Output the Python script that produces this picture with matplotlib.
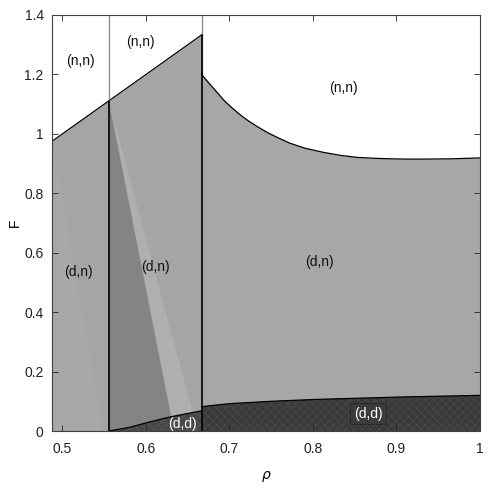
import matplotlib
matplotlib.use("Agg")
import matplotlib.pyplot as plt
import numpy as np

plt.rcParams['font.family'] = ['Liberation Sans', 'DejaVu Sans']
plt.rcParams['hatch.linewidth'] = 0.4

# ---- data ----
rho_min, rho_b1, rho_b2, rho_max = 0.4875, 5/9, 2/3, 1.0

# upper boundary (d,n)/(n,n), left part (straight line)
up_left_rho = [0.4875, 0.5556, 0.6667]
up_left_F = [0.975, 1.111, 1.333]

# upper boundary right part (curve)
up_right_rho = [0.6667, 0.675, 0.685, 0.693, 0.702, 0.712, 0.722, 0.733,
                0.745, 0.758, 0.772, 0.790, 0.812, 0.832, 0.852, 0.872,
                0.892, 0.912, 0.932, 0.966, 1.000]
up_right_F = [1.200, 1.172, 1.140, 1.114, 1.090, 1.066, 1.045, 1.025,
              1.005, 0.987, 0.969, 0.952, 0.938, 0.928, 0.921, 0.918,
              0.916, 0.915, 0.915, 0.916, 0.919]

# (d,d) boundary, middle part
dd_mid_rho = [0.5556, 0.580, 0.605, 0.630, 0.6667]
dd_mid_F = [0.000, 0.012, 0.031, 0.048, 0.068]

# (d,d) boundary, right part
dd_right_rho = [0.6667, 0.700, 0.750, 0.800, 0.850, 0.900, 0.950, 1.000]
dd_right_F = [0.082, 0.092, 0.100, 0.106, 0.110, 0.114, 0.117, 0.120]

# shading wedges inside the (d,n) regions
wedge_dark_rho = [0.5556, 0.6335, 0.5556]
wedge_dark_F = [1.111, 0.0, 0.0]
wedge_light_rho = [0.5556, 0.6335, 0.662]
wedge_light_F = [1.111, 0.0, 0.0]
wedge_left_rho = [0.4875, 0.4875, 0.548]
wedge_left_F = [0.975, 0.0, 0.0]

labels = [("(n,n)", 0.521, 1.245), ("(n,n)", 0.593, 1.31),
          ("(n,n)", 0.836, 1.155),
          ("(d,n)", 0.519, 0.535), ("(d,n)", 0.611, 0.552),
          ("(d,n)", 0.808, 0.569)]

xticks = [0.5, 0.6, 0.7, 0.8, 0.9, 1.0]
xticklabels = ["0.5", "0.6", "0.7", "0.8", "0.9", "1"]
yticks = [0, 0.2, 0.4, 0.6, 0.8, 1.0, 1.2, 1.4]
yticklabels = ["0", "0.2", "0.4", "0.6", "0.8", "1", "1.2", "1.4"]

# ---- figure ----
fig = plt.figure(figsize=(4.91, 4.90), dpi=100)
ax = fig.add_axes([0.1059, 0.1204, 0.9776 - 0.1059, 0.9694 - 0.1204])

c_dn = '#a5a5a5'
c_dark = '#848484'
c_light = '#afafaf'

# left region (d,n)
ax.fill_between(up_left_rho[:2], 0, up_left_F[:2], color=c_dn, lw=0)
ax.fill(wedge_left_rho, wedge_left_F, color='#a8a8a8', lw=0)
# middle region (d,n)
ax.fill_between(up_left_rho[1:], 0, up_left_F[1:], color=c_dn, lw=0)
ax.fill(wedge_light_rho, wedge_light_F, color=c_light, lw=0)
ax.fill(wedge_dark_rho, wedge_dark_F, color=c_dark, lw=0)
# right region (d,n)
ax.fill_between(up_right_rho, 0, up_right_F, color='#a7a7a7', lw=0)

# (d,d) regions
ax.fill_between(dd_mid_rho, 0, dd_mid_F, facecolor='#474747',
                edgecolor='#5a5a5a', hatch='xxxx', lw=0)
ax.fill_between(dd_right_rho, 0, dd_right_F, facecolor='#3a3a3a',
                edgecolor='#505050', hatch='xxxx', lw=0)

# boundaries
ax.plot(up_left_rho, up_left_F, color='k', lw=0.9)
ax.plot(up_right_rho, up_right_F, color='k', lw=0.9)
ax.plot(dd_mid_rho, dd_mid_F, color='k', lw=0.9)
ax.plot(dd_right_rho, dd_right_F, color='k', lw=0.9)

# vertical lines
for xv, ytop in [(rho_b1, up_left_F[1]), (rho_b2, up_right_F[0])]:
    ax.plot([xv, xv], [ytop, 1.4], color='#909090', lw=1.0)
    ax.plot([xv, xv], [0, ytop], color='k', lw=1.2)
ax.plot([rho_b2, rho_b2], [up_right_F[0], up_left_F[2]], color='k', lw=1.2)

for txt, x, y in labels:
    ax.text(x, y, txt, ha='center', va='center', fontsize=10, color='#111111')
ax.text(0.644, 0.024, "(d,d)", ha='center', va='center', fontsize=10,
        color='white')
ax.text(0.866, 0.058, "(d,d)", ha='center', va='center', fontsize=10,
        color='white',
        bbox=dict(boxstyle='square,pad=0.25', fc='#3c3c3c', ec='#2a2a2a',
                  lw=0.8))

ax.set_xlim(rho_min, rho_max)
ax.set_ylim(0, 1.4)
ax.set_xticks(xticks)
ax.set_xticklabels(xticklabels)
ax.set_yticks(yticks)
ax.set_yticklabels(yticklabels)
ax.tick_params(direction='in', length=4, width=0.6, labelsize=10,
               colors='#222222', top=True, right=True, pad=6)
ax.tick_params(axis='x', pad=8)
for s in ax.spines.values():
    s.set_linewidth(0.8)
    s.set_color('#404040')

ax.set_xlabel(r'$\rho$', fontsize=10, labelpad=9)
ax.set_ylabel('F', fontsize=10, labelpad=2)

fig.savefig('out.png', dpi=100, facecolor='white')
